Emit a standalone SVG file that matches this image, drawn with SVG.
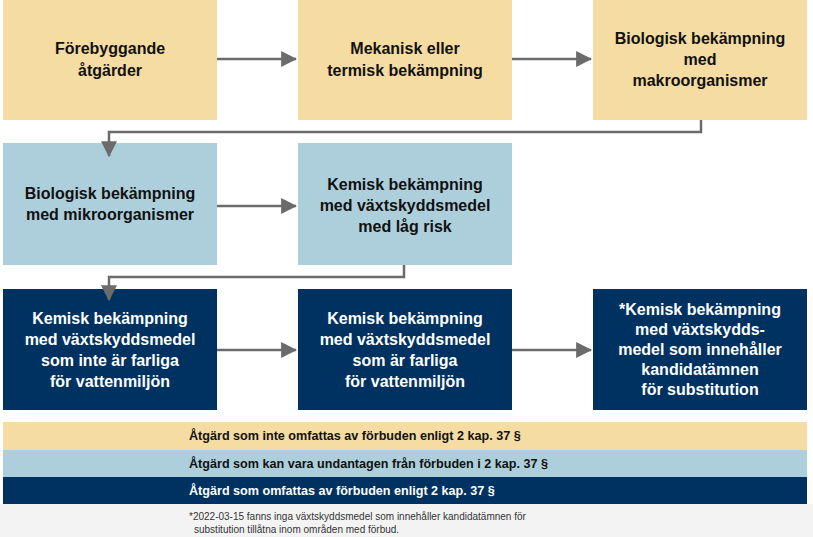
<svg xmlns="http://www.w3.org/2000/svg" width="813" height="537" viewBox="0 0 813 537">
  <defs>
    <style>
      .beige { fill: #F4DCA2; }
      .lblue { fill: #ADCFDB; }
      .navy { fill: #003261; }
      .t { font-family: "Liberation Sans", Arial, sans-serif; font-weight: bold; font-size: 16px; text-anchor: middle; }
      .dk { fill: #111111; }
      .wh { fill: #FFFFFF; }
      .leg { font-family: "Liberation Sans", Arial, sans-serif; font-weight: bold; font-size: 12.6px; }
      .foot { font-family: "Liberation Sans", Arial, sans-serif; font-size: 10px; fill: #333333; }
      .conn { fill: none; stroke: #6B6B6B; stroke-width: 2.5; }
    </style>
    <marker id="ah" markerUnits="userSpaceOnUse" markerWidth="16" markerHeight="16" viewBox="0 0 14 14" refX="13" refY="7" orient="auto">
      <path d="M0,0 L14,7 L0,14 Z" fill="#6B6B6B"/>
    </marker>
  </defs>

  <rect x="0" y="504" width="813" height="33" fill="#F3F3F3"/>

  <g id="n1"><rect class="beige" x="3" y="0" width="214" height="120"/>
    <text class="t dk" x="110" y="54">Förebyggande</text><text class="t dk" x="110" y="76">åtgärder</text></g>
  <g id="n2"><rect class="beige" x="298" y="0" width="214" height="120"/>
    <text class="t dk" x="405" y="54">Mekanisk eller</text><text class="t dk" x="405" y="76">termisk bekämpning</text></g>
  <g id="n3"><rect class="beige" x="593" y="0" width="214" height="120"/>
    <text class="t dk" x="700" y="44">Biologisk bekämpning</text><text class="t dk" x="700" y="65">med</text><text class="t dk" x="700" y="86">makroorganismer</text></g>

  <g id="n4"><rect class="lblue" x="3" y="143" width="214" height="122"/>
    <text class="t dk" x="110" y="199">Biologisk bekämpning</text><text class="t dk" x="110" y="220">med mikroorganismer</text></g>
  <g id="n5"><rect class="lblue" x="298" y="143" width="214" height="122"/>
    <text class="t dk" x="405" y="190">Kemisk bekämpning</text><text class="t dk" x="405" y="211">med växtskyddsmedel</text><text class="t dk" x="405" y="232">med låg risk</text></g>

  <g id="n6"><rect class="navy" x="3" y="289" width="214" height="121"/>
    <text class="t wh" x="110" y="324">Kemisk bekämpning</text><text class="t wh" x="110" y="345">med växtskyddsmedel</text><text class="t wh" x="110" y="366">som inte är farliga</text><text class="t wh" x="110" y="387">för vattenmiljön</text></g>
  <g id="n7"><rect class="navy" x="298" y="289" width="214" height="121"/>
    <text class="t wh" x="405" y="324">Kemisk bekämpning</text><text class="t wh" x="405" y="345">med växtskyddsmedel</text><text class="t wh" x="405" y="366">som är farliga</text><text class="t wh" x="405" y="387">för vattenmiljön</text></g>
  <g id="n8"><rect class="navy" x="593" y="289" width="214" height="121"/>
    <text class="t wh" x="700" y="315">*Kemisk bekämpning</text><text class="t wh" x="700" y="335">med växtskydds-</text><text class="t wh" x="700" y="355">medel som innehåller</text><text class="t wh" x="700" y="375">kandidatämnen</text><text class="t wh" x="700" y="395">för substitution</text></g>

  <g id="connectors">
    <line class="conn" x1="217" y1="59" x2="296" y2="59" marker-end="url(#ah)"/>
    <line class="conn" x1="512" y1="59" x2="591" y2="59" marker-end="url(#ah)"/>
    <polyline class="conn" points="701,120 701,132 109,132 109,156" marker-end="url(#ah)"/>
    <line class="conn" x1="217" y1="206" x2="296" y2="206" marker-end="url(#ah)"/>
    <polyline class="conn" points="404,265 404,277 109,277 109,300" marker-end="url(#ah)"/>
    <line class="conn" x1="217" y1="350" x2="296" y2="350" marker-end="url(#ah)"/>
    <line class="conn" x1="512" y1="350" x2="591" y2="350" marker-end="url(#ah)"/>
  </g>

  <g id="legend">
    <rect class="beige" x="3" y="422" width="804" height="28"/>
    <rect class="lblue" x="3" y="450" width="804" height="27"/>
    <rect class="navy" x="3" y="477" width="804" height="27"/>
    <text class="leg dk" x="189" y="440">Åtgärd som inte omfattas av förbuden enligt 2 kap. 37 §</text>
    <text class="leg dk" x="189" y="468">Åtgärd som kan vara undantagen från förbuden i 2 kap. 37 §</text>
    <text class="leg wh" x="189" y="495">Åtgärd som omfattas av förbuden enligt 2 kap. 37 §</text>
  </g>

  <text class="foot" x="189" y="520">*2022-03-15 fanns inga växtskyddsmedel som innehåller kandidatämnen för</text>
  <text class="foot" x="194" y="533">substitution tillåtna inom områden med förbud.</text>
</svg>
